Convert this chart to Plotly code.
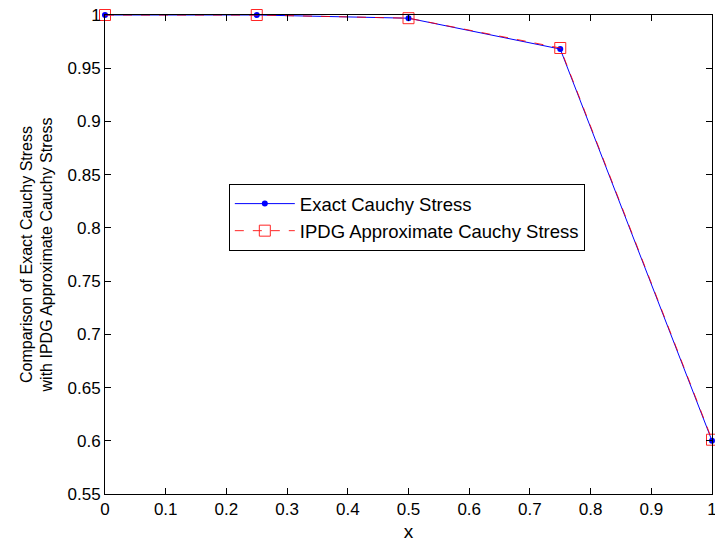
import plotly.graph_objects as go

x_vals = [0, 0.25, 0.5, 0.75, 1.0]
exact_stress = [1.0, 1.0, 0.997, 0.968, 0.600]
ipdg_stress = [1.0, 1.0, 0.997, 0.969, 0.601]
x_ticks = [0, 0.1, 0.2, 0.3, 0.4, 0.5, 0.6, 0.7, 0.8, 0.9, 1]
x_tick_text = ["0", "0.1", "0.2", "0.3", "0.4", "0.5", "0.6", "0.7", "0.8", "0.9", "1"]
y_ticks = [0.55, 0.6, 0.65, 0.7, 0.75, 0.8, 0.85, 0.9, 0.95, 1]
y_tick_text = ["0.55", "0.6", "0.65", "0.7", "0.75", "0.8", "0.85", "0.9", "0.95", "1"]

fig = go.Figure()
fig.add_trace(go.Scatter(
    x=x_vals, y=exact_stress, mode="lines+markers", name="Exact Cauchy Stress",
    line=dict(color="#0000ff", width=1),
    marker=dict(symbol="circle", size=6, color="#0000ff"),
    cliponaxis=False,
))
fig.add_trace(go.Scatter(
    x=x_vals, y=ipdg_stress, mode="lines+markers", name="IPDG Approximate Cauchy Stress",
    line=dict(color="#ff0000", width=1, dash="dash"),
    marker=dict(symbol="square-open", size=11, color="#ff0000", line=dict(width=1)),
    opacity=0.85,
    cliponaxis=False,
))

font = "Liberation Sans, Arial, sans-serif"
fig.update_layout(
    width=715, height=548,
    margin=dict(l=105, r=3, t=15, b=54),
    paper_bgcolor="white", plot_bgcolor="white",
    font=dict(family=font, size=17, color="black"),
    legend=dict(
        x=0.204, y=0.647, xanchor="left", yanchor="top",
        bgcolor="white", bordercolor="black", borderwidth=1,
        font=dict(size=18.5, family=font),
        tracegroupgap=0, itemwidth=60,
    ),
    xaxis=dict(
        range=[0, 1], tickvals=x_ticks, ticktext=x_tick_text,
        ticks="inside", ticklen=6, tickcolor="black",
        showline=True, linecolor="black", linewidth=1, mirror="ticks",
        showgrid=False, zeroline=False, automargin=False,
        title=dict(text="x", font=dict(size=19), standoff=6),
        tickfont=dict(size=17), ticklabeloverflow="allow",
    ),
    yaxis=dict(
        range=[0.55, 1], tickvals=y_ticks, ticktext=y_tick_text,
        ticks="inside", ticklen=6, tickcolor="black",
        showline=True, linecolor="black", linewidth=1, mirror="ticks",
        showgrid=False, zeroline=False, automargin=False,
        title=dict(text="Comparison of Exact Cauchy Stress<br>with IPDG Approximate Cauchy Stress",
                   font=dict(size=16), standoff=10),
        tickfont=dict(size=17),
    ),
)

fig.write_html("out.html")
